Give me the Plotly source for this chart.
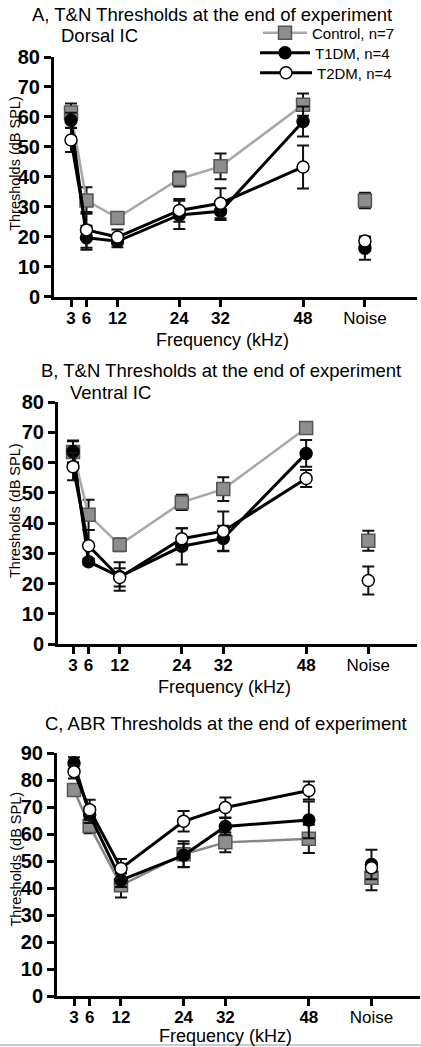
import plotly.graph_objects as go

FONT = "Liberation Sans, Arial, sans-serif"

freqs = [3, 6, 12, 24, 32, 48]
noise_x = 60
tick_vals = [3, 6, 12, 24, 32, 48, 60]
tick_text = ["<b>3</b>", "<b>6</b>", "<b>12</b>", "<b>24</b>", "<b>32</b>", "<b>48</b>", "Noise"]

# Panel A: Dorsal IC
a_ctrl = [61.5, 32.1, 26.3, 39.3, 43.5, 64.1]
a_ctrl_err = [3.0, 4.4, 1.0, 2.5, 4.3, 3.7]
a_ctrl_noise, a_ctrl_noise_err = 32.1, 2.6
a_t1 = [58.9, 19.7, 18.5, 27.3, 28.5, 58.5]
a_t1_err = [2.5, 4.0, 2.0, 4.7, 2.9, 5.0]
a_t1_noise, a_t1_noise_err = 16.2, 3.9
a_t2 = [52.3, 22.3, 19.9, 28.8, 31.2, 43.3]
a_t2_err = [4.0, 6.0, 2.5, 3.8, 5.0, 7.2]
a_t2_noise, a_t2_noise_err = 18.6, 1.0

# Panel B: Ventral IC
b_ctrl = [63.5, 42.7, 32.8, 46.8, 51.2, 71.4]
b_ctrl_err = [3.5, 5.0, 2.1, 2.5, 3.9, 0.8]
b_ctrl_noise, b_ctrl_noise_err = 34.1, 3.3
b_t1 = [63.6, 27.2, 22.3, 32.3, 34.9, 63.0]
b_t1_err = [3.7, 1.0, 4.7, 6.0, 4.2, 4.4]
b_t1_noise, b_t1_noise_err = None, 0
b_t2 = [58.6, 32.5, 22.0, 34.8, 37.3, 54.7]
b_t2_err = [4.5, 5.2, 3.0, 3.5, 6.5, 2.8]
b_t2_noise, b_t2_noise_err = 21.0, 4.6

# Panel C: ABR
c_ctrl = [76.3, 63.0, 41.0, 52.5, 56.9, 58.2]
c_ctrl_err = [2.2, 2.7, 4.5, 4.8, 3.7, 5.2]
c_ctrl_noise, c_ctrl_noise_err = 43.8, 4.6
c_t1 = [86.3, 67.1, 42.9, 52.1, 62.8, 65.2]
c_t1_err = [2.1, 3.0, 2.5, 4.3, 3.1, 6.8]
c_t1_noise, c_t1_noise_err = 48.7, 5.5
c_t2 = [83.1, 69.0, 47.2, 64.7, 69.8, 76.1]
c_t2_err = [2.5, 3.7, 3.5, 3.8, 3.7, 3.3]
c_t2_noise, c_t2_noise_err = 47.5, 1.5

series_names = ["Control, n=7", "T1DM, n=4", "T2DM, n=4"]

H = 1047.0
W = 421.0

panels = [
    dict(ctrl=(a_ctrl, a_ctrl_err, a_ctrl_noise, a_ctrl_noise_err),
         t1=(a_t1, a_t1_err, a_t1_noise, a_t1_noise_err),
         t2=(a_t2, a_t2_err, a_t2_noise, a_t2_noise_err),
         ymax=80, top=57, bottom=296.7, left=54, right=417,
         xr=[-0.3, 70.1], freq_off=43, ytitle_shift=13, ctrl_line="#a8a8a8",
         title="A, T&N Thresholds at the end of experiment", title_y=14, title_x=212,
         sub="Dorsal IC", sub_y=35, sub_x=59),
    dict(ctrl=(b_ctrl, b_ctrl_err, b_ctrl_noise, b_ctrl_noise_err),
         t1=(b_t1, b_t1_err, b_t1_noise, b_t1_noise_err),
         t2=(b_t2, b_t2_err, b_t2_noise, b_t2_noise_err),
         ymax=80, top=402, bottom=644, left=58, right=417,
         xr=[0.1, 69.4], freq_off=43, ytitle_shift=12, ctrl_line="#a8a8a8",
         title="B, T&N Thresholds at the end of experiment", title_y=370, title_x=221,
         sub="Ventral IC", sub_y=392, sub_x=68),
    dict(ctrl=(c_ctrl, c_ctrl_err, c_ctrl_noise, c_ctrl_noise_err),
         t1=(c_t1, c_t1_err, c_t1_noise, c_t1_noise_err),
         t2=(c_t2, c_t2_err, c_t2_noise, c_t2_noise_err),
         ymax=90, top=753, bottom=996, left=57, right=420,
         xr=[-0.26, 69.3], freq_off=40, ytitle_shift=15, ctrl_line="#868686",
         title="C, ABR Thresholds at the end of experiment", title_y=723, title_x=226,
         sub=None, sub_y=None, sub_x=None),
]

styles = {
    "ctrl": dict(line=dict(color="#a8a8a8", width=2.5),
                 marker=dict(symbol="square", size=13, color="#8e8e8e",
                             line=dict(color="#555555", width=1.5))),
    "t1": dict(line=dict(color="#000000", width=3),
               marker=dict(symbol="circle", size=12, color="#000000",
                           line=dict(color="#000000", width=1.5))),
    "t2": dict(line=dict(color="#000000", width=3),
               marker=dict(symbol="circle", size=12, color="#ffffff",
                           line=dict(color="#000000", width=1.5))),
}
legend_ids = {"ctrl": "legend", "t1": "legend2", "t2": "legend3"}
legend_y = {"ctrl": 33, "t1": 53, "t2": 73}
legend_x = {"ctrl": 258, "t1": 255, "t2": 255}
legend_itemwidth = {"ctrl": 44, "t1": 50, "t2": 52}

fig = go.Figure()
layout = dict(
    width=421, height=1047, autosize=False,
    margin=dict(l=0, r=0, t=0, b=0, pad=0),
    paper_bgcolor="white", plot_bgcolor="white",
    font=dict(family=FONT, color="black"),
    showlegend=True,
)
for key, lid in legend_ids.items():
    layout[lid] = dict(x=legend_x[key] / W, y=1 - legend_y[key] / H,
                       xanchor="left", yanchor="middle",
                       font=dict(family=FONT, size=15, color="black"),
                       bgcolor="rgba(0,0,0,0)", itemwidth=legend_itemwidth[key])

annotations = []

for i, p in enumerate(panels):
    idx = "" if i == 0 else str(i + 1)
    xa = "x" + idx
    ya = "y" + idx
    for key, name in zip(["ctrl", "t1", "t2"], series_names):
        vals, errs, nval, nerr = p[key]
        st = styles[key]
        line = dict(st["line"])
        if key == "ctrl":
            line["color"] = p["ctrl_line"]
        fig.add_trace(go.Scatter(
            x=freqs, y=vals, mode="lines+markers", name=name,
            legend=legend_ids[key], legendgroup=key, showlegend=(i == 0),
            line=line, marker=st["marker"],
            error_y=dict(type="data", array=errs, visible=True,
                         thickness=2, width=6, color="#111111"),
            xaxis=xa, yaxis=ya, cliponaxis=False,
        ))
        if nval is not None:
            fig.add_trace(go.Scatter(
                x=[noise_x], y=[nval], mode="markers", name=name,
                legend=legend_ids[key], legendgroup=key, showlegend=False,
                marker=st["marker"],
                error_y=dict(type="data", array=[nerr], visible=True,
                             thickness=2, width=6, color="#111111"),
                xaxis=xa, yaxis=ya, cliponaxis=False,
            ))
    layout["xaxis" + idx] = dict(
        domain=[p["left"] / W, p["right"] / W], range=p["xr"], anchor=ya,
        showline=True, linewidth=3, linecolor="black",
        ticks="outside", ticklen=7, tickwidth=3, tickcolor="black",
        tickvals=tick_vals, ticktext=tick_text, ticklabelstandoff=-3,
        tickfont=dict(family=FONT, size=17, color="black"),
        showgrid=False, zeroline=False, automargin=False,
    )
    layout["yaxis" + idx] = dict(
        domain=[1 - p["bottom"] / H, 1 - p["top"] / H], range=[0, p["ymax"]],
        anchor=xa, showline=True, linewidth=3, linecolor="black",
        ticks="outside", ticklen=7, tickwidth=3, tickcolor="black",
        dtick=10, tickfont=dict(family=FONT, size=20, color="black", weight="bold"),
        showgrid=False, zeroline=False, automargin=False,
    )
    mid = (p["top"] + p["bottom"]) / 2 - p["ytitle_shift"]
    annotations.append(dict(
        text="Thresholds (dB SPL)", textangle=-90, x=15 / W, y=1 - mid / H,
        xref="paper", yref="paper", showarrow=False,
        font=dict(family=FONT, size=14.5, color="black"),
        xanchor="center", yanchor="middle"))
    annotations.append(dict(
        text="Frequency (kHz)", x=(p["left"] + p["right"]) / 2 / W - 0.03,
        y=1 - (p["bottom"] + p["freq_off"]) / H, xref="paper", yref="paper",
        showarrow=False, font=dict(family=FONT, size=18, color="black"),
        xanchor="center", yanchor="middle"))
    annotations.append(dict(
        text=p["title"], x=p["title_x"] / W, y=1 - p["title_y"] / H,
        xref="paper", yref="paper", showarrow=False,
        font=dict(family=FONT, size=18.5, color="black"),
        xanchor="center", yanchor="middle"))
    if p["sub"]:
        annotations.append(dict(
            text=p["sub"], x=p["sub_x"] / W, y=1 - p["sub_y"] / H,
            xref="paper", yref="paper", showarrow=False,
            font=dict(family=FONT, size=18.5, color="black"),
            xanchor="left", yanchor="middle"))

layout["annotations"] = annotations
layout["shapes"] = [dict(type="line", xref="paper", yref="paper",
                         x0=0, x1=1, y0=1 - 1045 / H, y1=1 - 1045 / H,
                         line=dict(color="#bbbbbb", width=1.5))]
fig.update_layout(**layout)
fig.write_html("out.html", config={"displayModeBar": False},
               post_script="document.body.style.margin='0';document.body.style.padding='0';")
